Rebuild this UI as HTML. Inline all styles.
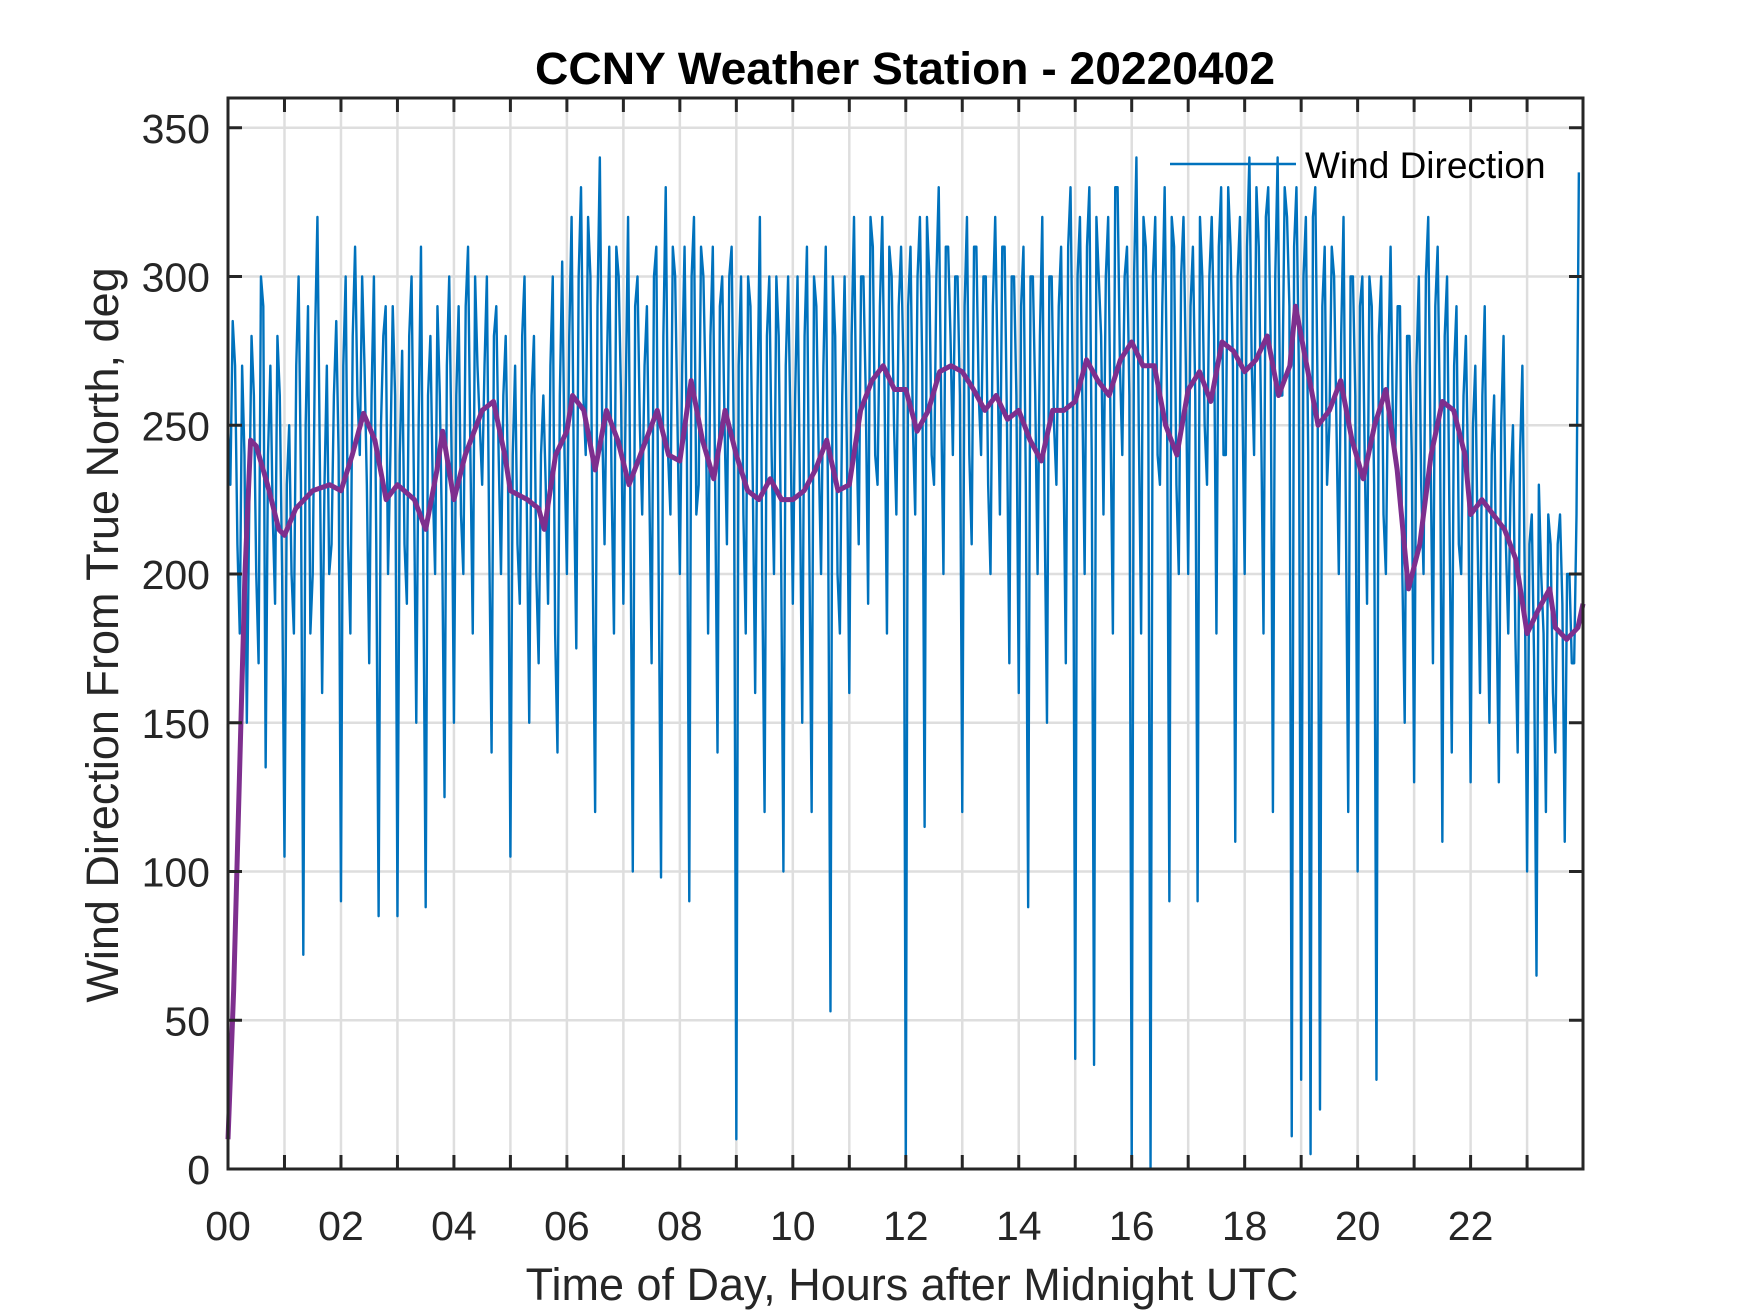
<!DOCTYPE html>
<html><head><meta charset="utf-8"><style>
html,body{margin:0;padding:0;background:#fff}
svg{display:block}
text{font-family:"Liberation Sans",Arial,sans-serif;fill:#262626}
</style></head><body>
<svg id="chart" width="1750" height="1313" viewBox="0 0 1750 1313" xmlns="http://www.w3.org/2000/svg">
<rect width="1750" height="1313" fill="#fff"/>
<g id="grid"></g>
<g id="series"></g>
<g id="axes"></g>
<text x="905" y="84" text-anchor="middle" font-size="45" font-weight="bold" style="fill:#000" textLength="740" lengthAdjust="spacingAndGlyphs">CCNY Weather Station - 20220402</text>
<text x="912" y="1300" text-anchor="middle" font-size="45">Time of Day, Hours after Midnight UTC</text>
<text transform="translate(118,635) rotate(-90)" text-anchor="middle" font-size="45">Wind Direction From True North, deg</text>
<g>
<line x1="1170" y1="164" x2="1296" y2="164" stroke="#0072BD" stroke-width="2.5"/>
<text x="1305" y="178" font-size="37" style="fill:#000">Wind Direction</text>
</g>
</svg>
<script>
const hourTicks = [0,1,2,3,4,5,6,7,8,9,10,11,12,13,14,15,16,17,18,19,20,21,22,23];
const xTickLabels = ["00","","02","","04","","06","","08","","10","","12","","14","","16","","18","","20","","22",""];
const yTicks = [0,50,100,150,200,250,300,350];
const yTickLabels = ["0","50","100","150","200","250","300","350"];
// raw wind direction, 5-minute samples (12 per hour), on the 5-minute mark
const windDir = [
250,285,210,270,150,280,200,300,135,270,190,260,
105,250,180,300,72,290,200,320,160,270,210,285,
90,300,180,310,240,270,170,300,85,280,200,290,
85,275,190,300,150,310,88,280,200,260,125,300,
150,290,200,310,180,270,230,300,140,290,200,280,
105,270,190,300,150,280,170,260,190,300,140,305,
200,320,175,330,240,300,120,340,210,310,180,300,
190,320,100,300,220,290,170,310,98,330,220,300,
200,310,90,320,230,300,180,310,140,300,210,310,
10,300,180,290,160,320,120,300,200,280,100,300,
190,300,150,310,120,290,200,310,53,280,180,300,
160,320,210,300,190,310,230,320,180,300,220,310,
0,310,220,320,115,300,230,330,200,310,240,300,
120,320,210,310,240,300,200,320,220,310,170,300,
160,310,88,300,200,320,150,300,230,310,170,330,
37,320,200,330,35,300,220,320,180,330,240,310,
0,340,180,310,0,320,230,330,90,310,200,320,
200,310,90,300,230,320,180,330,240,310,110,320,
200,340,240,310,180,330,120,340,260,320,11,330,
30,320,5,330,20,310,250,300,200,320,120,300,
100,300,190,290,30,300,200,310,240,290,150,280,
130,300,200,320,170,310,110,300,140,290,200,280,
130,270,160,290,150,260,130,280,180,250,140,270,
100,220,65,200,120,210,140,220,110,200,170,335];
// intermediate samples (2.5 minutes after each of the above)
const windDirMid = [
230,270,180,240,220,260,170,290,240,220,280,200,
230,200,270,230,250,180,280,240,230,200,260,240,
270,210,280,260,300,230,260,210,250,290,240,260,
240,210,280,230,250,200,260,230,290,210,270,240,
260,220,290,240,300,250,270,210,280,240,260,230,
240,210,280,220,260,200,240,230,270,180,260,240,
280,230,300,260,320,200,290,250,270,230,310,260,
260,220,290,250,270,230,300,200,280,240,310,250,
270,240,300,220,310,260,280,230,290,250,300,240,
270,220,300,230,260,200,280,240,300,210,270,250,
260,230,280,210,300,240,270,220,300,200,260,240,
280,250,300,260,320,240,290,260,310,250,290,270,
290,250,300,270,320,240,300,260,310,280,300,260,
290,240,310,260,300,230,290,270,310,250,300,260,
290,230,300,260,280,220,300,250,290,240,310,260,
300,260,310,240,320,280,300,250,330,270,300,260,
300,250,320,270,300,240,290,260,320,230,300,270,
290,260,320,250,300,280,310,240,330,270,300,260,
310,270,330,250,320,280,300,260,330,290,310,270,
300,240,320,260,290,230,310,250,280,220,300,260,
290,240,300,230,280,220,270,250,290,200,280,240,
270,230,300,240,290,250,280,220,270,210,260,230,
250,210,260,200,240,190,250,210,230,180,240,200,
210,170,230,180,220,160,210,190,200,170,220,190];
// smoothed trend
const trendHours = [0,0.1,0.2,0.3,0.4,0.5,0.7,0.9,1.0,1.2,1.5,1.8,2.0,2.2,2.4,2.6,2.8,3.0,3.3,3.5,3.7,3.8,4.0,4.2,4.5,4.7,4.9,5.0,5.3,5.5,5.6,5.8,6.0,6.1,6.3,6.5,6.7,6.9,7.1,7.3,7.6,7.8,8.0,8.2,8.4,8.6,8.8,9.0,9.2,9.4,9.6,9.8,10.0,10.2,10.4,10.6,10.8,11.0,11.2,11.4,11.6,11.8,12.0,12.2,12.4,12.6,12.8,13.0,13.2,13.4,13.6,13.8,14.0,14.2,14.4,14.6,14.8,15.0,15.2,15.4,15.6,15.8,16.0,16.2,16.4,16.6,16.8,17.0,17.2,17.4,17.6,17.8,18.0,18.2,18.4,18.6,18.8,18.9,19.1,19.3,19.5,19.7,19.9,20.1,20.3,20.5,20.7,20.9,21.1,21.3,21.5,21.7,21.9,22.0,22.2,22.4,22.6,22.8,23.0,23.2,23.4,23.5,23.7,23.9,24.0];
const trendValues = [10,60,130,200,245,243,230,215,213,222,228,230,228,240,254,245,225,230,225,215,235,248,225,240,255,258,240,228,225,222,215,240,248,260,255,235,255,245,230,240,255,240,238,265,245,232,255,240,228,225,232,225,225,228,235,245,228,230,255,265,270,262,262,248,255,268,270,268,262,255,260,252,255,245,238,255,255,258,272,265,260,272,278,270,270,250,240,262,268,258,278,275,268,272,280,260,270,290,270,250,255,265,245,232,250,262,235,195,210,240,258,255,240,220,225,220,215,205,180,188,195,182,178,182,190];

const X0=228,X1=1583,Y0=1169,Y1=98, XMAX=23.99, YMAX=360;
const xs = h => X0 + h/XMAX*(X1-X0);
const ys = v => Y0 - v/YMAX*(Y0-Y1);
const NS="http://www.w3.org/2000/svg";
function mk(tag, attrs, parent){const e=document.createElementNS(NS,tag);for(const k in attrs)e.setAttribute(k,attrs[k]);parent.appendChild(e);return e;}
const grid=document.getElementById('grid'), series=document.getElementById('series'), axes=document.getElementById('axes');

hourTicks.forEach((h,i)=>{
  const x=xs(h);
  const g=mk('line',{x1:x,y1:Y1,x2:x,y2:Y0,stroke:'#dedede','stroke-width':2.5},grid);
  
  
  const t1=mk('line',{x1:x,y1:Y0,x2:x,y2:Y0-14,stroke:'#262626','stroke-width':3},axes);
  
  
  const t2=mk('line',{x1:x,y1:Y1,x2:x,y2:Y1+14,stroke:'#262626','stroke-width':3},axes);
  
  
  if(xTickLabels[i]){
    const t=mk('text',{x:x,y:1240,'text-anchor':'middle','font-size':41},axes);
    t.textContent=xTickLabels[i];
    
    
  }
});
yTicks.forEach((v,i)=>{
  const y=ys(v);
  const g=mk('line',{x1:X0,y1:y,x2:X1,y2:y,stroke:'#dedede','stroke-width':2.5},grid);
  
  
  const t1=mk('line',{x1:X0,y1:y,x2:X0+14,y2:y,stroke:'#262626','stroke-width':3},axes);
  
  
  const t2=mk('line',{x1:X1,y1:y,x2:X1-14,y2:y,stroke:'#262626','stroke-width':3},axes);
  
  
  const t=mk('text',{x:210,y:y+15,'text-anchor':'end','font-size':41},axes);
  t.textContent=yTickLabels[i];
  
  
});
const box=mk('rect',{x:X0,y:Y1,width:X1-X0,height:Y0-Y1,fill:'none',stroke:'#262626','stroke-width':3},axes);



const n=windDir.length;
const pts=[];
windDir.forEach((v,i)=>{
  pts.push(xs(i*24/n)+','+ys(v));
  if(i<n-1) pts.push(xs((i+0.5)*24/n)+','+ys(windDirMid[i]));
});
const raw=mk('polyline',{points:pts.join(' '),fill:'none',stroke:'#0072BD','stroke-width':2.4,'stroke-linejoin':'round'},series);


const trPts=trendValues.map((v,i)=>xs(Math.min(trendHours[i],XMAX))+','+ys(v)).join(' ');
const tr=mk('polyline',{points:trPts,fill:'none',stroke:'#7E2F8E','stroke-width':5,'stroke-linejoin':'round'},series);


</script>
</body></html>
